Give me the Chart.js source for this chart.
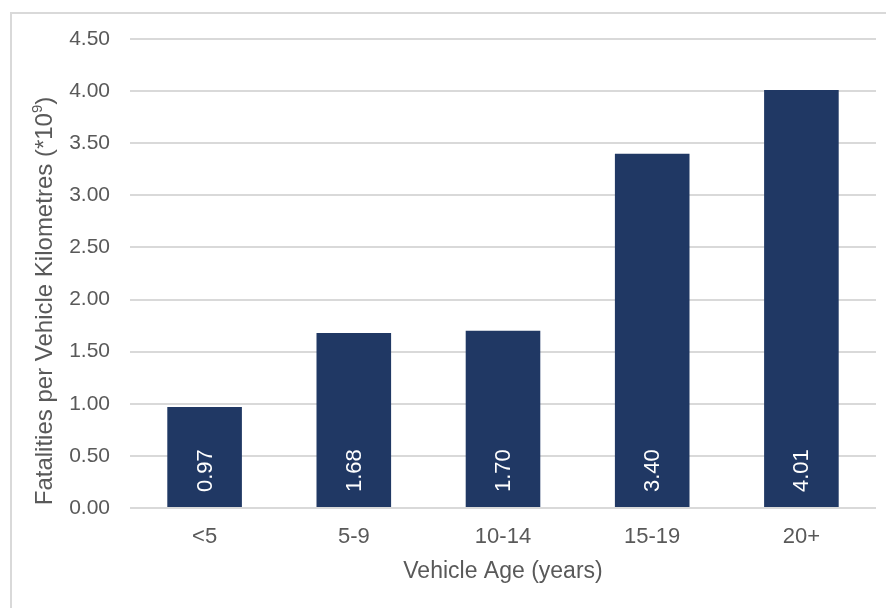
<!DOCTYPE html>
<html>
<head>
    <title>Vehicle Age</title>
    <script src="https://cdn.jsdelivr.net/npm/chart.js@4.4.0/dist/chart.umd.min.js"></script>
    <style>
        html, body { margin: 0; padding: 0; background: #fff; }
        .quadro { position: absolute; left: 10px; top: 12px; width: 900px; height: 620px; border: 2px solid #d9d9d9; }
        #grafico { position: absolute; left: 0; top: 0; }
    </style>
</head>
<body>
    <div class="quadro"></div>
    <canvas id="grafico" width="886" height="608"></canvas>

    <script>
        // dados
        var faixas = ['<5', '5-9', '10-14', '15-19', '20+'];
        var fatalidades = [0.97, 1.68, 1.70, 3.40, 4.01];
        var tituloX = 'Vehicle Age (years)';
        var tituloY = 'Fatalities per Vehicle Kilometres (*10';
        var expoenteY = '9';

        var fonte = "'Liberation Sans', Arial, sans-serif";
        var cinza = '#595959';

        // rotulos brancos dentro das barras
        var rotulosBarras = {
            id: 'rotulosBarras',
            afterDatasetsDraw: function (chart) {
                var ctx = chart.ctx;
                var meta = chart.getDatasetMeta(0);
                ctx.save();
                ctx.fillStyle = '#ffffff';
                ctx.font = '22px ' + fonte;
                ctx.textAlign = 'left';
                ctx.textBaseline = 'middle';
                meta.data.forEach(function (barra, i) {
                    ctx.save();
                    ctx.translate(barra.x, barra.base - 15);
                    ctx.rotate(-Math.PI / 2);
                    ctx.fillText(fatalidades[i].toFixed(2), 0, 1);
                    ctx.restore();
                });
                ctx.restore();
            }
        };

        // titulo do eixo y com expoente
        var tituloEixoY = {
            id: 'tituloEixoY',
            afterDraw: function (chart) {
                var ctx = chart.ctx;
                ctx.save();
                ctx.fillStyle = cinza;
                ctx.textBaseline = 'middle';
                ctx.textAlign = 'left';
                ctx.font = '24px ' + fonte;
                var w1 = ctx.measureText(tituloY).width;
                var w3 = ctx.measureText(')').width;
                ctx.font = '15px ' + fonte;
                var w2 = ctx.measureText(expoenteY).width;
                var total = w1 + w2 + w3;
                ctx.translate(45, 301);
                ctx.rotate(-Math.PI / 2);
                ctx.font = '24px ' + fonte;
                ctx.fillText(tituloY, -total / 2, 0);
                ctx.font = '15px ' + fonte;
                ctx.fillText(expoenteY, -total / 2 + w1, -7);
                ctx.font = '24px ' + fonte;
                ctx.fillText(')', -total / 2 + w1 + w2, 0);
                ctx.restore();
            }
        };

        var ctx = document.getElementById('grafico').getContext('2d');
        var grafico = new Chart(ctx, {
            type: 'bar',
            data: {
                labels: faixas,
                datasets: [{
                    data: fatalidades,
                    backgroundColor: '#203864',
                    borderWidth: 0,
                    barPercentage: 0.5,
                    categoryPercentage: 1
                }]
            },
            options: {
                responsive: false,
                animation: false,
                layout: {
                    padding: { top: 39, right: 10, left: 0, bottom: 0 }
                },
                plugins: {
                    legend: { display: false },
                    tooltip: { enabled: false }
                },
                scales: {
                    x: {
                        grid: { display: false, drawTicks: false },
                        border: { display: false },
                        ticks: {
                            color: cinza,
                            padding: 16,
                            font: { family: fonte, size: 22 }
                        },
                        title: {
                            display: true,
                            text: tituloX,
                            color: cinza,
                            padding: { top: 0, bottom: 23 },
                            font: { family: fonte, size: 23 }
                        },
                        afterFit: function (scale) { scale.height = 100; }
                    },
                    y: {
                        min: 0,
                        max: 4.5,
                        grid: { color: '#d9d9d9', lineWidth: 2, drawTicks: false },
                        border: { display: false },
                        ticks: {
                            stepSize: 0.5,
                            color: cinza,
                            padding: 20,
                            font: { family: fonte, size: 21 },
                            callback: function (valor) { return Number(valor).toFixed(2); }
                        },
                        afterFit: function (scale) { scale.width = 130; }
                    }
                }
            },
            plugins: [rotulosBarras, tituloEixoY]
        });
    </script>
</body>
</html>
